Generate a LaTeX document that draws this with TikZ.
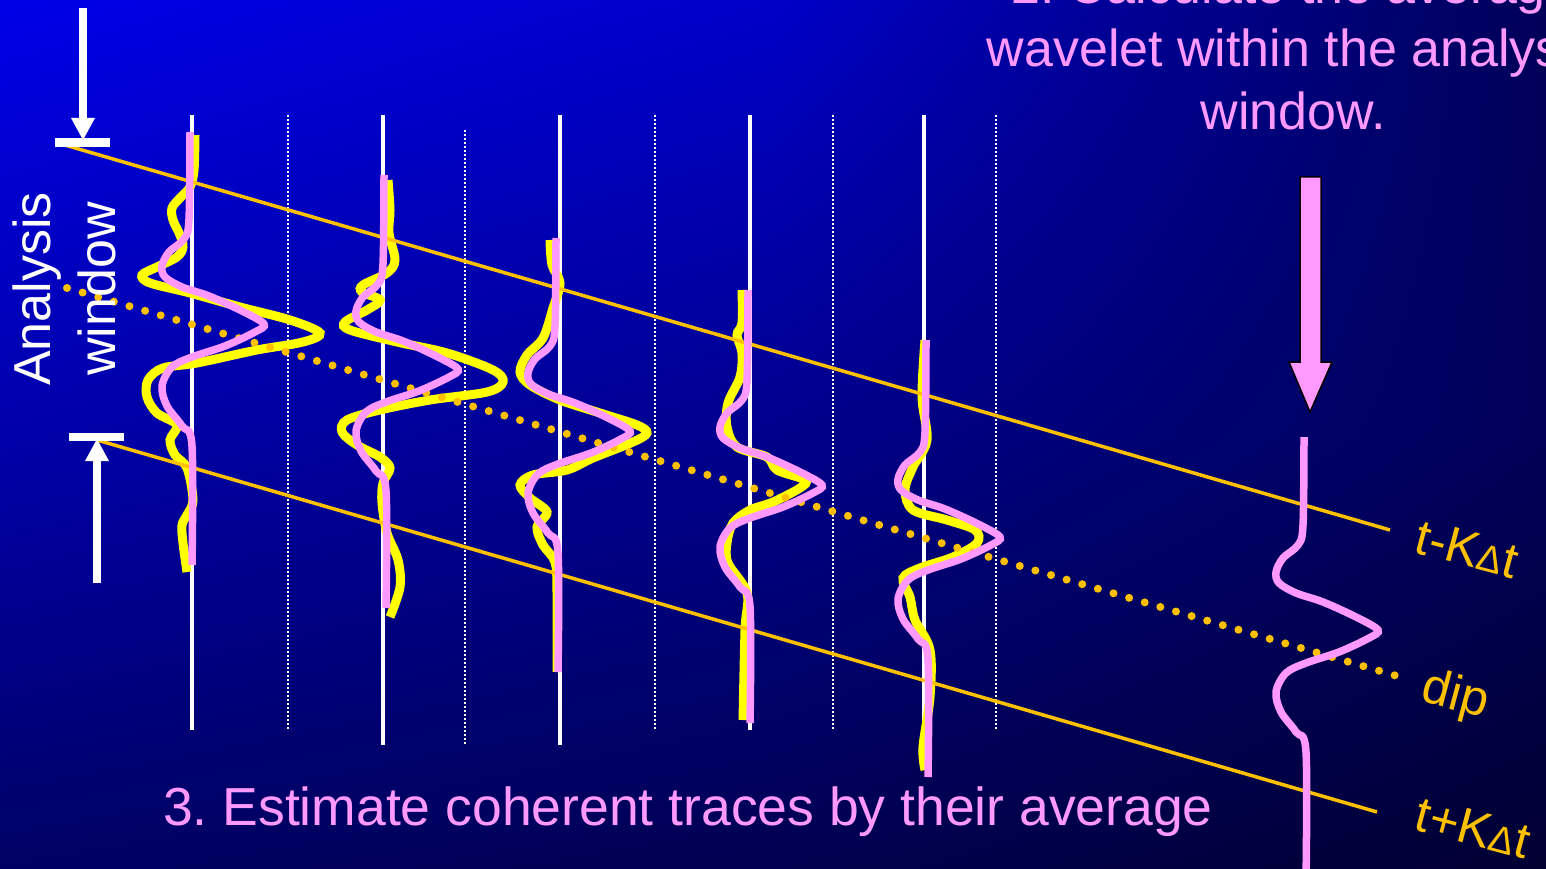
\documentclass[tikz,border=0pt]{standalone}
\usepackage{fontspec}
\setmainfont{Liberation Sans}
\usetikzlibrary{shadings}
\frenchspacing
\definecolor{gold}{HTML}{FFC000}
\definecolor{wyellow}{HTML}{FFFF00}
\definecolor{wpink}{HTML}{FF99FF}
\definecolor{bgAA}{RGB}{0,0,232}
\definecolor{bgBA}{RGB}{0,0,200}
\definecolor{bgCA}{RGB}{0,0,88}
\definecolor{bgAB}{RGB}{0,0,170}
\definecolor{bgBB}{RGB}{0,0,140}
\definecolor{bgCB}{RGB}{0,0,88}
\definecolor{bgAC}{RGB}{0,0,100}
\definecolor{bgBC}{RGB}{0,0,80}
\definecolor{bgCC}{RGB}{0,0,50}
\newcommand\pinkwave[4]{%
  \begin{scope}[shift={(#1,#2)}]
    \draw[pinkw] plot[smooth, tension=0.55] coordinates {(0,#3) (-1,-106) (-6,-86) (-21,-73) (-28,-59) (-25,-48) (-8,-38) (19,-29) (52,-14) (74,-1) (65,7) (35,21) (2,32) (-18,42) (-28,61) (-23,81) (-8,101) (2,121) (2,#4)};
  \end{scope}}
\begin{document}
\begin{tikzpicture}[x=1pt,y=-1pt,
  tracel/.style={white, line width=3.5},
  dotl/.style={white, line width=2, dash pattern=on 2pt off 2pt},
  goldl/.style={gold, line width=3.5},
  yelw/.style={wyellow, line width=9},
  pinkw/.style={wpink, line width=7.5},
  bigtxt/.style={font=\fontsize{52}{60}\selectfont, inner sep=0pt},
  lbl/.style={gold, font=\fontsize{50}{58}\selectfont, inner sep=0pt}]
\useasboundingbox (0,0) rectangle (1546,869);
\clip (0,0) rectangle (1546,869);
% background (piecewise bilinear gradient)
\shade[upper left=bgAA, upper right=bgBA, lower left=bgAB, lower right=bgBB] (0,0) rectangle (774,435);
\shade[upper left=bgBA, upper right=bgCA, lower left=bgBB, lower right=bgCB] (773,0) rectangle (1546,435);
\shade[upper left=bgAB, upper right=bgBB, lower left=bgAC, lower right=bgBC] (0,434) rectangle (774,869);
\shade[upper left=bgBB, upper right=bgCB, lower left=bgBC, lower right=bgCC] (773,434) rectangle (1546,869);

% trace axes
\foreach \x/\b in {192/730, 383/745, 560/745, 750/730, 924/730}
  \draw[tracel] (\x,115) -- (\x,\b);
\foreach \x/\a/\b in {288/115/730, 465/130/745, 655/115/730, 833/115/730, 996/115/730}
  \draw[dotl] (\x,\a) -- (\x,\b);

% yellow (noisy) traces
\draw[yelw] plot[smooth, tension=0.55] coordinates {(195,135) (194,170) (190,187) (180,198) (172,208) (173,220) (180,235) (183,247) (177,257) (157,267) (142,275) (150,283) (190,293) (240,307) (290,320) (320,333) (303,342) (257,350) (197,363) (163,368) (148,380) (147,397) (157,413) (177,425) (170,440) (175,455) (187,468) (193,500) (187,515) (182,525) (183,543) (187,572)};
\draw[yelw] plot[smooth, tension=0.55] coordinates {(388,180) (390,210) (389,233) (395,260) (387,273) (363,285) (362,292) (380,300) (367,310) (345,322) (350,330) (397,342) (447,353) (493,370) (503,382) (487,392) (430,400) (380,410) (347,420) (342,432) (357,445) (380,457) (390,468) (383,483) (382,503) (387,533) (398,560) (400,587) (390,617)};
\draw[yelw] plot[smooth, tension=0.55] coordinates {(550,240) (552,265) (560,283) (553,308) (543,338) (527,355) (520,372) (530,385) (560,400) (600,413) (637,425) (647,433) (633,442) (593,458) (567,470) (533,475) (520,485) (530,498) (547,512) (537,527) (543,545) (555,562) (557,592) (557,672)};
\draw[yelw] plot[smooth, tension=0.55] coordinates {(742,290) (742,323) (737,335) (742,353) (740,377) (728,403) (727,427) (737,447) (767,457) (777,470) (805,480) (800,488) (773,502) (750,510) (733,523) (727,543) (728,563) (747,593) (745,630) (743,720)};
\draw[yelw] plot[smooth, tension=0.55] coordinates {(925,340) (922,397) (927,440) (913,467) (905,490) (913,510) (947,520) (975,530) (977,543) (953,557) (920,568) (903,578) (910,597) (915,620) (930,650) (930,697) (923,747) (925,770)};

% window boundaries and dip
\draw[goldl] (58,143) -- (1390,530);
\draw[goldl] (97,440) -- (1377,812);
\draw[gold, line width=8, line cap=round, dash pattern=on 0pt off 16.27pt] (67,288) -- (1397,676);

% pink (average) wavelets
\pinkwave{190}{325}{-193}{240}
\pinkwave{384}{370}{-195}{238}
\pinkwave{556}{432}{-194}{240}
\pinkwave{748}{486}{-196}{237}
\pinkwave{926}{538}{-198}{239}
\pinkwave{1304}{631}{-194}{250}

% analysis window markers
\fill[white] (55,138) rectangle (110,147);
\draw[white, line width=8] (83,8) -- (83,120);
\fill[white] (71,118) -- (95,118) -- (83,140) -- cycle;
\fill[white] (69,433) rectangle (124,441);
\draw[white, line width=8] (97,583) -- (97,459);
\fill[white] (85,461) -- (109,461) -- (97,439) -- cycle;

% big pink arrow
\filldraw[fill=wpink, draw=black, line width=1.5] (1300,177) -- (1321,177) -- (1321,362) -- (1332,362) -- (1310,412) -- (1289,362) -- (1300,362) -- cycle;

% texts
\node[bigtxt, white, anchor=base, rotate=90] (ana) at (50,289) {Analysis};
\node[bigtxt, white, anchor=base, rotate=90] (win) at (115,289) {window};
\node[bigtxt, wpink, anchor=base] (top1) at (1293,4) {2. Calculate the average};
\node[bigtxt, wpink, anchor=base] (top2) at (1293,67) {wavelet within the analysis};
\node[bigtxt, wpink, anchor=base] (top3) at (1293,130) {window.};
\node[bigtxt, wpink, anchor=base, font=\fontsize{53.5}{60}\selectfont] (step3) at (688,825) {3. Estimate coherent traces by their average};
\node[lbl, rotate=-15] (tmk) at (1467,549) {t-K{\fontsize{38}{38}\selectfont Δ}t};
\node[lbl, rotate=-15] (dip) at (1455,697) {dip};
\node[lbl, rotate=-15] (tpk) at (1473,828) {t+K{\fontsize{38}{38}\selectfont Δ}t};
\end{tikzpicture}
\end{document}
